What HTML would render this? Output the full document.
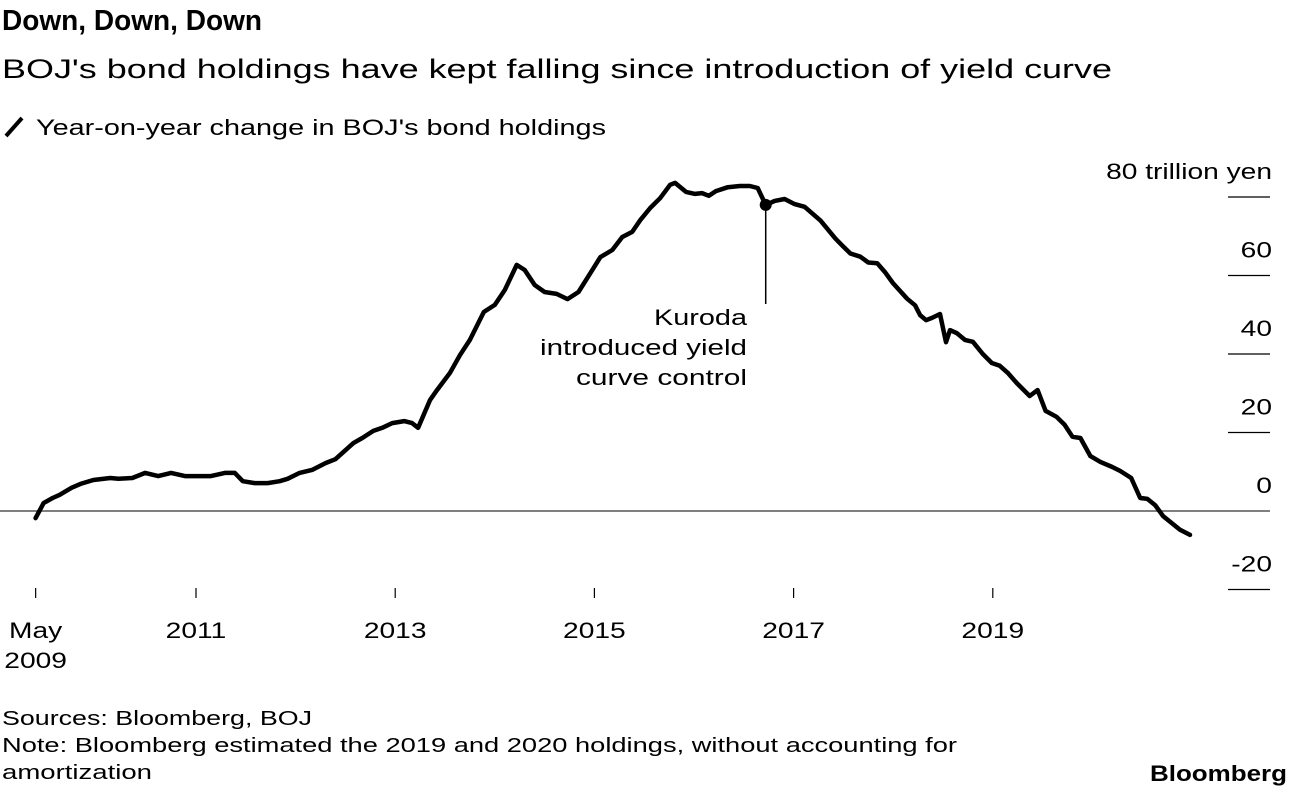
<!DOCTYPE html>
<html><head><meta charset="utf-8"><style>
body{margin:0;background:#fff;width:1289px;height:790px;overflow:hidden;font-family:"Liberation Sans",Arial,sans-serif}
svg text{font-family:"Liberation Sans",Arial,sans-serif}
</style></head><body>
<svg id="chart" width="1289" height="790">
<text x="2" y="30" font-size="29" font-weight="bold" fill="#000" textLength="260" lengthAdjust="spacingAndGlyphs">Down, Down, Down</text>
<text x="2" y="78" font-size="27" fill="#000" textLength="1110" lengthAdjust="spacingAndGlyphs">BOJ's bond holdings have kept falling since introduction of yield curve</text>
<line x1="6" y1="136" x2="22" y2="118" stroke="#000" stroke-width="4"/>
<text x="36" y="135" font-size="22" fill="#000" textLength="570" lengthAdjust="spacingAndGlyphs">Year-on-year change in BOJ's bond holdings</text>
<g id="yaxis"></g>
<g id="xaxis"></g>
<g id="series"></g>
<text x="747" y="325" font-size="22" text-anchor="end" textLength="93" lengthAdjust="spacingAndGlyphs">Kuroda</text>
<text x="747" y="355" font-size="22" text-anchor="end" textLength="207" lengthAdjust="spacingAndGlyphs">introduced yield</text>
<text x="747" y="385" font-size="22" text-anchor="end" textLength="171" lengthAdjust="spacingAndGlyphs">curve control</text>
<text x="2" y="725" font-size="20" textLength="310" lengthAdjust="spacingAndGlyphs">Sources: Bloomberg, BOJ</text>
<text x="2" y="752" font-size="20" textLength="955" lengthAdjust="spacingAndGlyphs">Note: Bloomberg estimated the 2019 and 2020 holdings, without accounting for</text>
<text x="2" y="779" font-size="20" textLength="150" lengthAdjust="spacingAndGlyphs">amortization</text>
<text x="1150" y="781" font-size="22" font-weight="bold" textLength="137" lengthAdjust="spacingAndGlyphs">Bloomberg</text>
</svg>
<script>
const dates=[2009.39,2009.47,2009.56,2009.63,2009.75,2009.84,2009.97,2010.14,2010.22,2010.36,2010.49,2010.62,2010.75,2010.89,2011.04,2011.15,2011.29,2011.39,2011.47,2011.59,2011.72,2011.84,2011.92,2012.04,2012.17,2012.30,2012.40,2012.47,2012.58,2012.67,2012.78,2012.87,2012.97,2013.09,2013.17,2013.23,2013.35,2013.42,2013.55,2013.65,2013.75,2013.89,2014.00,2014.10,2014.22,2014.30,2014.40,2014.50,2014.62,2014.73,2014.84,2014.96,2015.06,2015.18,2015.28,2015.38,2015.46,2015.56,2015.66,2015.76,2015.81,2015.92,2016.01,2016.08,2016.15,2016.22,2016.34,2016.46,2016.56,2016.64,2016.72,2016.81,2016.91,2017.01,2017.11,2017.27,2017.42,2017.49,2017.57,2017.67,2017.75,2017.84,2017.92,2018.00,2018.14,2018.22,2018.27,2018.33,2018.39,2018.47,2018.53,2018.57,2018.64,2018.72,2018.80,2018.90,2018.99,2019.07,2019.15,2019.24,2019.37,2019.45,2019.53,2019.64,2019.72,2019.80,2019.88,2019.98,2020.08,2020.20,2020.28,2020.39,2020.48,2020.55,2020.63,2020.71,2020.88,2020.98];
const values=[-1.8,2.0,3.3,4.1,5.9,6.9,7.9,8.4,8.2,8.4,9.7,8.9,9.7,8.9,8.9,8.9,9.7,9.7,7.6,7.1,7.1,7.6,8.2,9.7,10.5,12.2,13.2,14.8,17.3,18.6,20.4,21.2,22.4,22.9,22.4,21.2,28.3,30.8,35.2,39.7,43.6,50.7,52.5,56.3,62.7,61.4,57.6,55.8,55.3,54.0,55.8,60.6,64.7,66.5,69.8,71.1,74.1,77.2,79.7,83.1,83.6,81.3,80.8,81.0,80.3,81.5,82.5,82.8,82.8,82.3,78.0,79.0,79.5,78.2,77.5,74.0,69.4,67.6,65.6,64.8,63.3,63.1,60.8,58.0,54.1,52.4,49.9,48.6,49.2,50.2,43.0,46.1,45.3,43.6,43.1,40.0,37.7,37.0,35.2,32.6,29.3,30.8,25.5,24.0,22.0,18.9,18.6,14.0,12.5,11.2,10.2,8.4,3.3,3.1,1.5,-1.3,-4.8,-6.1];
const yTicks=[-20,0,20,40,60,80];
const yTickLabels=["-20","0","20","40","60","80 trillion yen"];
const xTicks=[2009.39,2011,2013,2015,2017,2019];
const xTickLabels=["May","2011","2013","2015","2017","2019"];
const annotationDate=2016.72, annotationValue=78.0;

const NS="http://www.w3.org/2000/svg";
const xS=t=>196+(t-2011)*99.6;
const yS=v=>511-v*3.925;
const W=1.28;
function mk(tag,attrs,parent){const e=document.createElementNS(NS,tag);for(const k in attrs)e.setAttribute(k,attrs[k]);parent.appendChild(e);return e;}
function stretch(t){const w=t.getComputedTextLength();t.setAttribute('textLength',(w*W).toFixed(1));t.setAttribute('lengthAdjust','spacingAndGlyphs');}
const ya=document.getElementById('yaxis'),xa=document.getElementById('xaxis'),sr=document.getElementById('series');
yTicks.forEach((v,i)=>{
  const y=yS(v);
  if(v===0){const l=mk('line',{x1:0,x2:1270,y1:y,y2:y,stroke:'#555','stroke-width':1.5},ya);
    
    }
  else{const l=mk('line',{x1:1228,x2:1270,y1:y,y2:y,stroke:'#000','stroke-width':1.2},ya);
    
    }
  const t=mk('text',{x:1272,y:y-18,'font-size':22,'text-anchor':'end'},ya);t.textContent=yTickLabels[i];
  
  
  stretch(t);
});
xTicks.forEach((d,i)=>{
  const x=xS(d);
  const l=mk('line',{x1:x,x2:x,y1:588,y2:598,stroke:'#000','stroke-width':1.2},xa);
  
  
  const t=mk('text',{x:x,y:638,'font-size':22,'text-anchor':'middle'},xa);t.textContent=xTickLabels[i];
  
  
  stretch(t);
});
const t2=mk('text',{x:xS(xTicks[0]),y:668,'font-size':22,'text-anchor':'middle'},xa);t2.textContent="2009";


stretch(t2);
const pts=dates.map((d,i)=>xS(d).toFixed(1)+','+yS(values[i]).toFixed(1)).join(' ');
const pl=mk('polyline',{points:pts,fill:'none',stroke:'#000','stroke-width':4.5,'stroke-linejoin':'round','stroke-linecap':'round'},sr);


const al=mk('line',{x1:xS(annotationDate),x2:xS(annotationDate),y1:yS(annotationValue),y2:304,stroke:'#000','stroke-width':1.5},sr);


const dot=mk('circle',{cx:xS(annotationDate),cy:yS(annotationValue),r:6,fill:'#000'},sr);


</script>
</body></html>
